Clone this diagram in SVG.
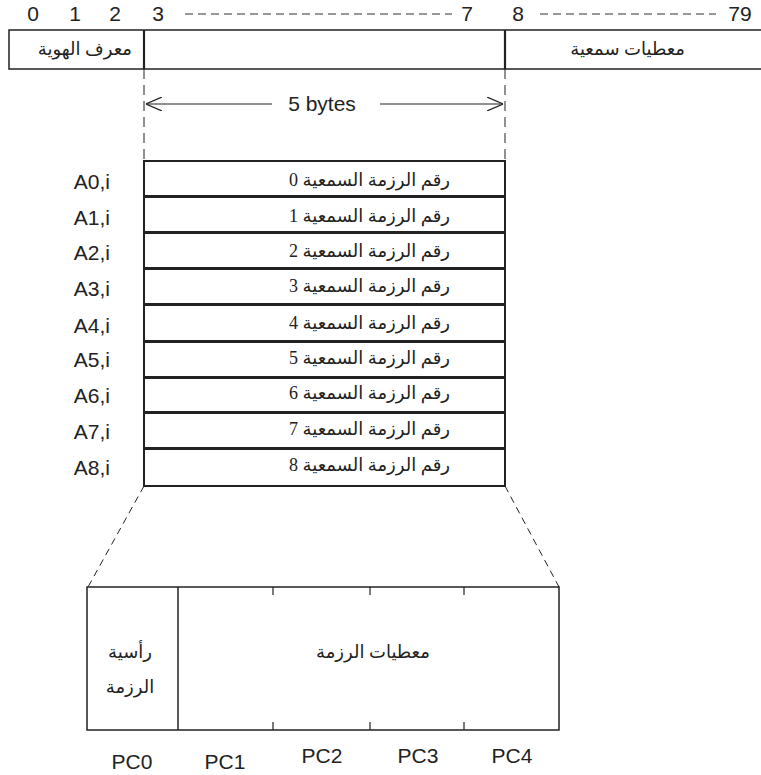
<svg xmlns="http://www.w3.org/2000/svg" width="761" height="775" viewBox="0 0 761 775">
<defs>
<style>
.box{fill:#fff;stroke:#222;stroke-width:1.5}
.row{fill:#fff;stroke:#222;stroke-width:2}
.hdash{stroke:#777;stroke-width:1.3;stroke-dasharray:8,5;fill:none}
.dash{stroke:#222;stroke-width:1;fill:none}
.ln{stroke:#222;stroke-width:1.2;fill:none}
.sans{font-family:"Liberation Sans",Arial,sans-serif;font-size:21px;fill:#222}
.ar{font-family:"Liberation Serif","DejaVu Sans",serif;font-size:18px;fill:#222}
</style>
<marker id="chev" viewBox="0 0 16 14" refX="16" refY="7" markerWidth="16" markerHeight="14" markerUnits="userSpaceOnUse" orient="auto">
<path d="M0,0 L16,7 L0,14" fill="none" stroke="#222" stroke-width="1.2"/>
</marker>
</defs>

<g id="header">
<text class="sans" x="33" y="21" text-anchor="middle">0</text>
<text class="sans" x="75" y="21" text-anchor="middle">1</text>
<text class="sans" x="115" y="21" text-anchor="middle">2</text>
<text class="sans" x="158" y="21" text-anchor="middle">3</text>
<line class="hdash" x1="185" y1="14" x2="452" y2="14"/>
<text class="sans" x="467" y="21" text-anchor="middle">7</text>
<text class="sans" x="518" y="21" text-anchor="middle">8</text>
<line class="hdash" x1="540" y1="14" x2="716" y2="14"/>
<text class="sans" x="740" y="21" text-anchor="middle">79</text>
</g>

<g id="frame">
<rect class="box" x="9" y="30" width="760" height="39"/>
<line x1="144" y1="30" x2="144" y2="69" stroke="#222" stroke-width="2.2"/>
<line x1="505" y1="30" x2="505" y2="69" stroke="#222" stroke-width="2.2"/>
<text class="ar" x="132" y="55" direction="rtl" text-anchor="start">معرف الهوية</text>
<text class="ar" x="685" y="55" direction="rtl" text-anchor="start" font-size="17">معطيات سمعية</text>
</g>

<g id="connectors">
<line class="dash" x1="144" y1="69" x2="144" y2="161" stroke-dasharray="10,6"/>
<line class="dash" x1="505" y1="69" x2="505" y2="161" stroke-dasharray="10,6"/>
<line class="ln" x1="272" y1="104" x2="146" y2="104" marker-end="url(#chev)"/>
<line class="ln" x1="380" y1="104" x2="503" y2="104" marker-end="url(#chev)"/>
<line class="dash" x1="144" y1="486" x2="88" y2="587" stroke-dasharray="7,5"/>
<line class="dash" x1="505" y1="486" x2="559" y2="587" stroke-dasharray="7,5"/>
</g>
<text class="sans" x="322" y="111" text-anchor="middle">5 bytes</text>

<g id="rows">
<rect class="row" x="144" y="161" width="361" height="35"/>
<rect class="row" x="144" y="197" width="361" height="35"/>
<rect class="row" x="144" y="233" width="361" height="35"/>
<rect class="row" x="144" y="269" width="361" height="35"/>
<rect class="row" x="144" y="305" width="361" height="36"/>
<rect class="row" x="144" y="342" width="361" height="35"/>
<rect class="row" x="144" y="378" width="361" height="34"/>
<rect class="row" x="144" y="413" width="361" height="35"/>
<rect class="row" x="144" y="449" width="361" height="37"/>
<text class="ar" x="450" y="186" direction="rtl" text-anchor="start">رقم الرزمة السمعية 0</text>
<text class="ar" x="450" y="222" direction="rtl" text-anchor="start">رقم الرزمة السمعية 1</text>
<text class="ar" x="450" y="257" direction="rtl" text-anchor="start">رقم الرزمة السمعية 2</text>
<text class="ar" x="450" y="292" direction="rtl" text-anchor="start">رقم الرزمة السمعية 3</text>
<text class="ar" x="450" y="329" direction="rtl" text-anchor="start">رقم الرزمة السمعية 4</text>
<text class="ar" x="450" y="364" direction="rtl" text-anchor="start">رقم الرزمة السمعية 5</text>
<text class="ar" x="450" y="399" direction="rtl" text-anchor="start">رقم الرزمة السمعية 6</text>
<text class="ar" x="450" y="435" direction="rtl" text-anchor="start">رقم الرزمة السمعية 7</text>
<text class="ar" x="450" y="471" direction="rtl" text-anchor="start">رقم الرزمة السمعية 8</text>
</g>

<g id="row-labels">
<text class="sans" x="110" y="189" text-anchor="end">A0,i</text>
<text class="sans" x="110" y="225" text-anchor="end">A1,i</text>
<text class="sans" x="110" y="260" text-anchor="end">A2,i</text>
<text class="sans" x="110" y="296" text-anchor="end">A3,i</text>
<text class="sans" x="110" y="333" text-anchor="end">A4,i</text>
<text class="sans" x="110" y="367" text-anchor="end">A5,i</text>
<text class="sans" x="110" y="403" text-anchor="end">A6,i</text>
<text class="sans" x="110" y="439" text-anchor="end">A7,i</text>
<text class="sans" x="110" y="475" text-anchor="end">A8,i</text>
</g>

<g id="packet">
<rect class="box" x="87" y="587" width="472" height="143"/>
<line x1="178" y1="587" x2="178" y2="730" stroke="#222" stroke-width="1.5"/>
<line class="ln" x1="273" y1="587" x2="273" y2="595"/>
<line class="ln" x1="370" y1="587" x2="370" y2="595"/>
<line class="ln" x1="464" y1="587" x2="464" y2="595"/>
<line class="ln" x1="273" y1="722" x2="273" y2="730"/>
<line class="ln" x1="370" y1="722" x2="370" y2="730"/>
<line class="ln" x1="464" y1="722" x2="464" y2="730"/>
<text class="ar" x="130" y="658" text-anchor="middle">رأسية</text>
<text class="ar" x="130" y="693" text-anchor="middle">الرزمة</text>
<text class="ar" x="373" y="658" text-anchor="middle">معطيات الرزمة</text>
</g>

<g id="pc-labels">
<text class="sans" x="132" y="769" text-anchor="middle">PC0</text>
<text class="sans" x="225" y="769" text-anchor="middle">PC1</text>
<text class="sans" x="322" y="763" text-anchor="middle">PC2</text>
<text class="sans" x="418" y="763" text-anchor="middle">PC3</text>
<text class="sans" x="512" y="763" text-anchor="middle">PC4</text>
</g>
</svg>
